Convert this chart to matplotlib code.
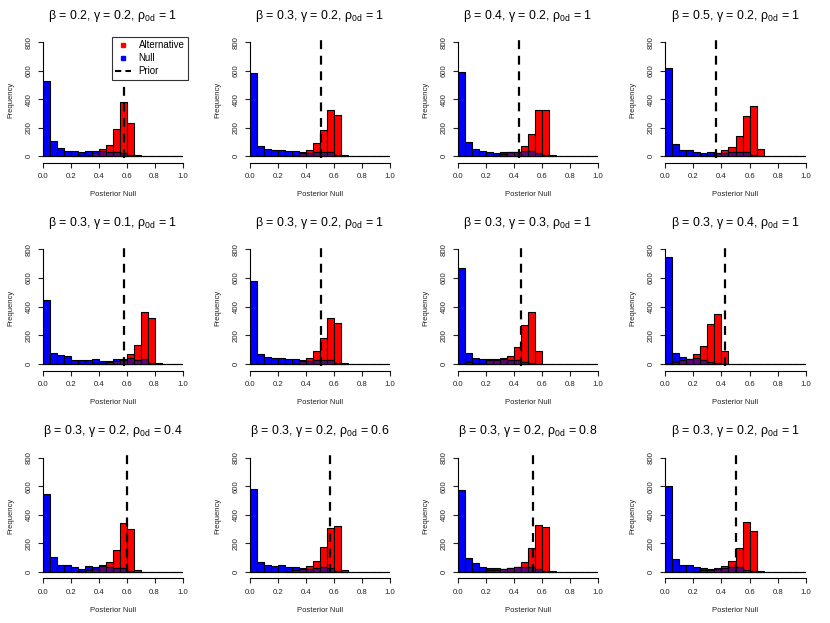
import matplotlib
matplotlib.use("Agg")
import matplotlib.pyplot as plt
import numpy as np
from matplotlib.lines import Line2D

plt.rcParams['font.family'] = ['Liberation Sans', 'DejaVu Sans']
plt.rcParams['mathtext.fontset'] = 'custom'
plt.rcParams['mathtext.rm'] = 'Liberation Sans'
plt.rcParams['mathtext.it'] = 'Liberation Sans:italic'

# bins of width 0.05 on [0, 1]
bin_edges = np.linspace(0, 1, 21)

beta = [0.2, 0.3, 0.4, 0.5, 0.3, 0.3, 0.3, 0.3, 0.3, 0.3, 0.3, 0.3]
gamma = [0.2, 0.2, 0.2, 0.2, 0.1, 0.2, 0.3, 0.4, 0.2, 0.2, 0.2, 0.2]
rho = ['1', '1', '1', '1', '1', '1', '1', '1', '0.4', '0.6', '0.8', '1']
prior = [0.579, 0.507, 0.433, 0.363, 0.584, 0.507, 0.452, 0.422, 0.600, 0.571, 0.538, 0.505]

null_1 = [528, 106, 59, 35, 38, 30, 35, 38, 35, 30, 25, 20, 10, 2, 0, 0, 0, 0, 0, 0]
alt_1 = [0, 0, 0, 0, 3, 5, 10, 22, 47, 77, 188, 382, 235, 5, 0, 0, 0, 0, 0, 0]
null_2 = [582, 70, 52, 45, 42, 38, 35, 25, 22, 25, 28, 28, 8, 2, 0, 0, 0, 0, 0, 0]
alt_2 = [0, 0, 0, 0, 0, 3, 10, 18, 45, 92, 183, 324, 288, 5, 0, 0, 0, 0, 0, 0]
null_3 = [589, 101, 52, 33, 28, 19, 25, 28, 30, 32, 35, 20, 5, 1, 0, 0, 0, 0, 0, 0]
alt_3 = [0, 0, 0, 0, 0, 5, 15, 25, 30, 70, 155, 322, 322, 8, 0, 0, 0, 0, 0, 0]
null_4 = [622, 82, 45, 40, 30, 22, 25, 18, 20, 25, 28, 25, 8, 1, 0, 0, 0, 0, 0, 0]
alt_4 = [0, 0, 0, 0, 0, 5, 10, 18, 45, 65, 140, 280, 352, 52, 2, 0, 0, 0, 0, 0]
null_5 = [446, 75, 62, 55, 28, 30, 25, 32, 22, 20, 38, 35, 40, 30, 35, 10, 2, 0, 0, 0]
alt_5 = [0, 0, 0, 0, 0, 0, 3, 5, 10, 15, 20, 30, 68, 130, 365, 320, 5, 0, 0, 0]
null_6 = [582, 70, 52, 45, 42, 38, 35, 25, 22, 25, 28, 28, 8, 2, 0, 0, 0, 0, 0, 0]
alt_6 = [0, 0, 0, 0, 0, 3, 10, 18, 45, 92, 183, 324, 288, 5, 0, 0, 0, 0, 0, 0]
null_7 = [672, 80, 45, 35, 38, 35, 35, 30, 25, 15, 5, 1, 0, 0, 0, 0, 0, 0, 0, 0]
alt_7 = [0, 15, 10, 10, 25, 30, 40, 58, 122, 270, 362, 90, 2, 0, 0, 0, 0, 0, 0, 0]
null_8 = [744, 75, 47, 35, 40, 28, 15, 5, 0, 0, 0, 0, 0, 0, 0, 0, 0, 0, 0, 0]
alt_8 = [5, 15, 28, 35, 70, 125, 282, 348, 92, 2, 0, 0, 0, 0, 0, 0, 0, 0, 0, 0]
null_9 = [543, 105, 50, 48, 30, 22, 38, 35, 40, 30, 28, 25, 8, 1, 0, 0, 0, 0, 0, 0]
alt_9 = [0, 0, 0, 0, 0, 5, 12, 22, 45, 70, 155, 340, 298, 12, 0, 0, 0, 0, 0, 0]
null_10 = [578, 65, 50, 42, 45, 35, 35, 25, 20, 25, 30, 28, 8, 1, 0, 0, 0, 0, 0, 0]
alt_10 = [0, 0, 0, 0, 0, 3, 10, 20, 38, 78, 175, 305, 322, 10, 0, 0, 0, 0, 0, 0]
null_11 = [573, 98, 58, 30, 28, 25, 22, 25, 30, 30, 35, 20, 5, 1, 0, 0, 0, 0, 0, 0]
alt_11 = [0, 0, 5, 8, 10, 15, 20, 25, 35, 65, 168, 330, 315, 8, 0, 0, 0, 0, 0, 0]
null_12 = [602, 88, 50, 45, 30, 25, 20, 20, 25, 35, 30, 15, 5, 1, 0, 0, 0, 0, 0, 0]
alt_12 = [0, 0, 0, 0, 5, 10, 15, 25, 38, 75, 168, 352, 285, 8, 0, 0, 0, 0, 0, 0]

nulls = [null_1, null_2, null_3, null_4, null_5, null_6,
         null_7, null_8, null_9, null_10, null_11, null_12]
alts = [alt_1, alt_2, alt_3, alt_4, alt_5, alt_6,
        alt_7, alt_8, alt_9, alt_10, alt_11, alt_12]

W, H = 830, 623
fig = plt.figure(figsize=(W / 100, H / 100), dpi=100)

# pixel placement of each panel: x of 0 and 1, y of 0 and 800
cols = [(43, 182.5), (250, 390), (458, 598), (665, 806)]
rows = [(156, 42.3), (364, 249.3), (571.7, 457.7)]
YLO, YHI = -47, 830

purple = '#5c0675'

for i in range(12):
    r, c = divmod(i, 4)
    x0, x1 = cols[c]
    y0, y8 = rows[r]
    ppu = (y0 - y8) / 800
    ybot = y0 - YLO * ppu
    ytop = y8 - (YHI - 800) * ppu
    ax = fig.add_axes([x0 / W, 1 - ybot / H, (x1 - x0) / W, (ybot - ytop) / H])

    nl = np.array(nulls[i])
    al = np.array(alts[i])
    left = bin_edges[:-1]
    ax.bar(left, al, width=0.05, align='edge', color='red', edgecolor='black', linewidth=0.8)
    ax.bar(left, nl, width=0.05, align='edge', color='blue', edgecolor='black', linewidth=0.8)
    ov = np.minimum(nl, al)
    ax.bar(left[ov > 0], ov[ov > 0], width=0.05, align='edge', color=purple,
           edgecolor='black', linewidth=0.8)
    ax.vlines(prior[i], -12, YHI, colors='black', linestyles=(0, (4, 3)), linewidth=1.6, zorder=3)

    ax.set_xlim(0, 1)
    ax.set_ylim(YLO, YHI)
    for s in ['top', 'right']:
        ax.spines[s].set_visible(False)
    ax.spines['left'].set_bounds(0, 800)
    ax.spines['bottom'].set_bounds(0, 1)
    ax.spines['left'].set_linewidth(0.8)
    ax.spines['bottom'].set_linewidth(0.8)
    ax.set_xticks([0, 0.2, 0.4, 0.6, 0.8, 1.0])
    ax.set_xticklabels(['0.0', '0.2', '0.4', '0.6', '0.8', '1.0'])
    ax.set_yticks([0, 200, 400, 600, 800])
    ax.tick_params(labelsize=5.6, length=3.5, width=0.8, pad=4, colors='#222222')
    for lab in ax.get_yticklabels():
        lab.set_rotation(90)
        lab.set_va('center')
    ax.set_xlabel('Posterior Null', fontsize=5.5, labelpad=8, color='#222222')
    ax.set_ylabel('Frequency', fontsize=5.5, labelpad=8, color='#222222')
    ax.set_title('\u03b2 = %s, \u03b3 = %s, $\\mathregular{\u03c1_{0d}}$ = %s' % (beta[i], gamma[i], rho[i]),
                 fontsize=8.9, pad=14)

    if i == 0:
        handles = [Line2D([], [], marker='s', color='red', linestyle='none', markersize=3.5),
                   Line2D([], [], marker='s', color='blue', linestyle='none', markersize=3.5),
                   Line2D([], [], color='black', linestyle=(0, (3, 2)), linewidth=1.5)]
        leg = ax.legend(handles, ['Alternative', 'Null', 'Prior'], loc='upper left',
                        bbox_to_anchor=(112 / W, 1 - 37 / H), bbox_transform=fig.transFigure,
                        fontsize=7.0, fancybox=False, framealpha=1, edgecolor='#333333',
                        handlelength=1.6, handletextpad=0.8, borderpad=0.35,
                        labelspacing=0.3, borderaxespad=0)
        leg.get_frame().set_linewidth(0.8)

fig.savefig('out.png', dpi=100)
